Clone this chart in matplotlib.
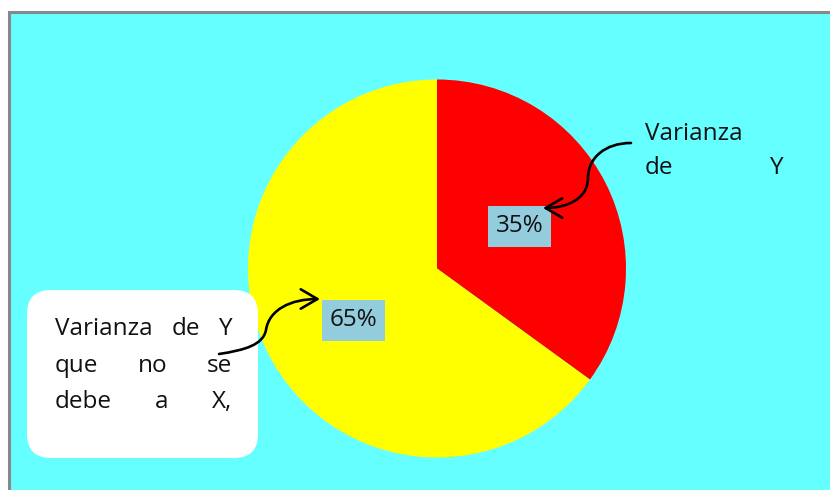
import matplotlib
matplotlib.use("Agg")
import matplotlib.pyplot as plt
from matplotlib.patches import Rectangle, FancyBboxPatch, FancyArrowPatch
from matplotlib.path import Path

# ---- data ----
categories = ["Varianza de Y", "Varianza de Y que no se debe a X,"]
values = [35, 65]
colors = ["#FF0000", "#FFFF00"]
label_top = [["Varianza"], ["de", "Y"]]
label_box = [["Varianza", "de", "Y"], ["que", "no", "se"], ["debe", "a", "X,"]]

W, H = 830, 490
FS = 17.5
plt.rcParams['font.family'] = ['Open Sans', 'DejaVu Sans']
fig = plt.figure(figsize=(W / 100, H / 100), dpi=100)
ax = fig.add_axes([0, 0, 1, 1])
ax.set_xlim(0, W)
ax.set_ylim(0, H)
ax.set_aspect('equal')
ax.axis('off')

def Y(y):
    return H - y

# background frame
ax.add_patch(Rectangle((9, Y(12) - 600), 900, 600, facecolor='#66FFFF',
                       edgecolor='#888888', lw=2.2, zorder=0))

# pie
wedges, texts, autotexts = ax.pie(
    values, colors=colors, startangle=90, counterclock=False,
    center=(437, Y(268.5)), radius=189, autopct='%d%%', pctdistance=0.5,
    textprops=dict(fontsize=FS, color='#111111'),
    wedgeprops=dict(linewidth=0))
label_pos = [(519.5, 226.5), (353.5, 320.5)]
for t, (px, py) in zip(autotexts, label_pos):
    t.set_position((px, Y(py)))
    t.set_zorder(6)
    ax.add_patch(Rectangle((px - 31.5, Y(py) - 20.5), 63, 41,
                           facecolor='#93CDDD', edgecolor='none', zorder=5))
ax.set_xlim(0, W)
ax.set_ylim(0, H)

# white rounded box
ax.add_patch(FancyBboxPatch((27, Y(458)), 231, 168,
                            boxstyle='round,pad=0,rounding_size=24',
                            facecolor='white', edgecolor='none', zorder=3))

renderer = fig.canvas.get_renderer()

def justify(lines, x0, x1, y0, dy, fs=FS):
    for i, words in enumerate(lines):
        yb = Y(y0 + i * dy)
        ts = [ax.text(0, yb, w, fontsize=fs, va='baseline', ha='left',
                      color='#111111', zorder=6) for w in words]
        if len(ts) == 1:
            ts[0].set_x(x0)
            continue
        widths = [t.get_window_extent(renderer).width for t in ts]
        gap = (x1 - x0 - sum(widths)) / (len(ts) - 1)
        x = x0
        for t, w in zip(ts, widths):
            t.set_x(x)
            x += w + gap

justify(label_top, 645, 783, 140, 34)
justify(label_box, 55, 232, 335, 36.5)

def curve(pts, zorder=7):
    verts = [(x, Y(y)) for x, y in pts]
    codes = [Path.MOVETO] + [Path.CURVE4] * (len(verts) - 1)
    arr = FancyArrowPatch(path=Path(verts, codes),
                          arrowstyle='->,head_length=12,head_width=7',
                          lw=1.9, color='black', zorder=zorder)
    ax.add_patch(arr)

curve([(631, 143), (605, 143), (588, 158), (588, 178),
       (588, 200), (565, 208), (543, 208)])
curve([(219, 354), (245, 350), (263, 345), (266, 330),
       (269, 310), (290, 299), (320, 299)])

fig.savefig('out.png', dpi=100)
